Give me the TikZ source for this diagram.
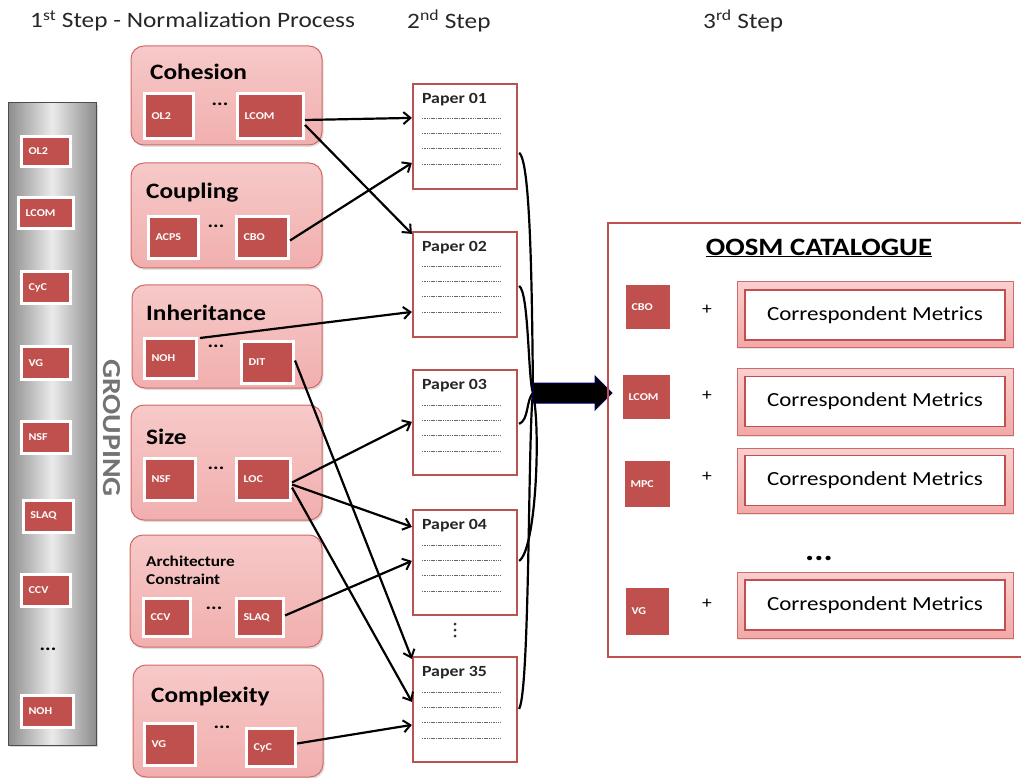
\documentclass[tikz,border=0pt]{standalone}
\usepackage{fontspec}
\setmainfont[FakeStretch=1.15]{Carlito}
\usetikzlibrary{arrows.meta,shadows,calc}
\definecolor{metred}{HTML}{C0504D}
\definecolor{grpborder}{HTML}{CF6A67}
\definecolor{grptop}{HTML}{F6C9C8}
\definecolor{grpbot}{HTML}{F1AFAE}
\definecolor{paperborder}{HTML}{B85450}
\definecolor{catred}{HTML}{C0504D}
\definecolor{cortop}{HTML}{F9CFCF}
\definecolor{corbot}{HTML}{F2A9A8}
\newcommand\fsz[1]{\fontsize{#1}{#1}\selectfont}
\tikzset{
  grp/.style={rounded corners=13pt, draw=grpborder, line width=1pt, top color=grptop, bottom color=grpbot,
    drop shadow={opacity=0.25, shadow xshift=1.5pt, shadow yshift=-2pt}},
  met/.style={fill=metred, draw=white, line width=3pt, text=white, font=\bfseries\fsz{10.5},
    inner xsep=7pt, inner ysep=0pt, align=left,
    drop shadow={opacity=0.3, shadow xshift=1.5pt, shadow yshift=-1.5pt}},
  gtitle/.style={anchor=west, inner sep=0pt, font=\bfseries\fsz{22}},
  dots/.style={inner sep=0pt, font=\bfseries\fsz{18}},
  paperbox/.style={draw=paperborder, line width=2.2pt, fill=white, minimum width=104pt, minimum height=105pt, inner sep=0pt},
  ptitle/.style={anchor=west, inner sep=0pt, font=\bfseries\fsz{15.5}, text=black!85},
  dl/.style={black!60, line width=0.8pt, dash pattern=on 1.5pt off 0.8pt},
  arr/.style={-{Straight Barb[length=7pt,width=12pt,line width=2pt]}, line width=2.2pt, black},
  brace/.style={line width=2.2pt, black},
  head/.style={anchor=west, inner sep=0pt, font=\fsz{22}, text=black!85},
  corout/.style={draw=grpborder, line width=1pt, top color=cortop, bottom color=corbot, minimum width=276pt,
    drop shadow={opacity=0.2, shadow xshift=1pt, shadow yshift=-1.5pt}},
  corin/.style={draw=catred, line width=1.2pt, fill=white, minimum width=260pt, minimum height=50pt, font=\fsz{20}},
  plus/.style={inner sep=0pt, font=\fsz{17}},
}
% name, x, y, width, height, label
\newcommand\metric[6]{\node[met, minimum width=#4pt, minimum height=#5pt, text width=#4pt-14pt] (#1) at (#2,#3) {#6};}
% name, cx, cy, label
\newcommand\paper[4]{%
  \node[paperbox] (#1) at (#2,#3) {};
  \node[ptitle] (#1t) at ($(#1.north west)+(10,17)$) {#4};
  \draw[dl] ($(#1.north west)+(10,36)$) -- ($(#1.north west)+(89,36)$);
  \draw[dl] ($(#1.north west)+(10,51)$) -- ($(#1.north west)+(89,51)$);
  \draw[dl] ($(#1.north west)+(10,66)$) -- ($(#1.north west)+(89,66)$);
  \draw[dl] ($(#1.north west)+(10,82)$) -- ($(#1.north west)+(89,82)$);
}
% name, cy, height
\newcommand\corr[3]{%
  \node[corout, minimum height=#3pt] (#1) at (875,#2) {};
  \node[corin] (#1i) at (#1.center) {Correspondent Metrics};
}
\begin{document}
\begin{tikzpicture}[x=1pt,y=-1pt]
\useasboundingbox (0,0) rectangle (1021,778);

% headings
\node[head] (h1) at (30,21) {1\textsuperscript{st} Step - Normalization Process};
\node[head] (h2) at (407,21) {2\textsuperscript{nd} Step};
\node[head] (h3) at (703,21) {3\textsuperscript{rd} Step};

% left grouping column
\node[draw=black!70, line width=1pt, left color=black!45, right color=black!45, middle color=black!8,
      minimum width=88pt, minimum height=642pt,
      drop shadow={opacity=0.3, shadow xshift=2pt, shadow yshift=-2pt}] (col) at (52,424) {};
\metric{cOL}{46}{151.5}{49}{30}{OL2}
\metric{cLCOM}{46}{213}{55}{31}{LCOM}
\metric{cCyC}{46}{288}{49}{32}{CyC}
\metric{cVG}{46}{363}{49}{32}{VG}
\metric{cNSF}{46}{437}{49}{32}{NSF}
\metric{cSLAQ}{48.5}{516}{50}{32}{SLAQ}
\metric{cCCV}{46}{590}{49}{32}{CCV}
\node[dots] (cdots) at (48,649) {...};
\metric{cNOH}{47.5}{711}{52}{32}{NOH}
\node[rotate=-90, inner sep=0pt, font=\bfseries\fsz{26}, text=black!55] (grouping) at (112,428) {GROUPING};

% group boxes
\node[grp, minimum width=191pt, minimum height=99pt] (coh) at (226.5,95.5) {};
\node[gtitle] (cohT) at (150,72) {Cohesion};
\metric{cohOL}{169}{116}{49}{45}{OL2}
\node[dots] (cohD) at (220,104) {...};
\metric{cohLCOM}{270.5}{116}{66}{45}{LCOM}

\node[grp, minimum width=191pt, minimum height=105pt] (cpl) at (226.5,215.5) {};
\node[gtitle] (cplT) at (146,193) {Coupling};
\metric{cplACPS}{173.5}{237.5}{50}{42}{ACPS}
\node[dots] (cplD) at (216,226) {...};
\metric{cplCBO}{262.5}{237.5}{52}{42}{CBO}

\node[grp, minimum width=190pt, minimum height=103pt] (inh) at (227,336.5) {};
\node[gtitle] (inhT) at (146,313) {Inheritance};
\metric{inhNOH}{170.5}{358.5}{52}{40}{NOH}
\node[dots] (inhD) at (216,346) {...};
\metric{inhDIT}{267.5}{362.5}{52}{42}{DIT}

\node[grp, minimum width=191pt, minimum height=115pt] (siz) at (226.5,462.5) {};
\node[gtitle] (sizT) at (146,437) {Size};
\metric{sizNSF}{170}{479.5}{51}{42}{NSF}
\node[dots] (sizD) at (216,468) {...};
\metric{sizLOC}{263.5}{479.5}{54}{42}{LOC}

\node[grp, minimum width=192pt, minimum height=112pt] (arc) at (226,591) {};
\node[anchor=west, inner sep=0pt, align=left, font=\bfseries\fsz{15}] (arcT) at (146,570) {Architecture\\[3pt]Constraint};
\metric{arcCCV}{167}{617.5}{47}{38}{CCV}
\node[dots] (arcD) at (214,608) {...};
\metric{arcSLAQ}{260}{617.5}{47}{38}{SLAQ}

\node[grp, minimum width=190pt, minimum height=112pt] (cpx) at (228,721) {};
\node[gtitle] (cpxT) at (151,697) {Complexity};
\metric{cpxVG}{170}{744.5}{51}{42}{VG}
\node[dots] (cpxD) at (222,727) {...};
\metric{cpxCyC}{271}{747.5}{49}{38}{CyC}

% papers
\paper{p01}{465}{136.5}{Paper 01}
\paper{p02}{465}{284.5}{Paper 02}
\paper{p03}{465}{422.5}{Paper 03}
\paper{p04}{465}{562.5}{Paper 04}
\paper{p35}{465}{709.5}{Paper 35}
% vertical ellipsis between Paper 04 and Paper 35
\fill[black!80] ($(p04.south)+(-10,8)$) circle (1.6pt);
\fill[black!80] ($(p04.south)+(-10,14)$) circle (1.6pt);
\fill[black!80] ($(p04.south)+(-10,20)$) circle (1.6pt);

% arrows from metrics to papers
\draw[arr] ($(cohLCOM.east)+(0,4)$) -- ($(p01.north west)+(0,35)$);
\draw[arr] ($(cohLCOM.east)+(0,9)$) -- ($(p02.north west)+(0,3)$);
\draw[arr] ($(cplCBO.east)+(0,3)$) -- ($(p01.north west)+(0,80)$);
\draw[arr] ($(inhNOH.north east)+(2,1)$) -- ($(p02.north west)+(0,81)$);
\draw[arr] ($(inhDIT.east)+(0,-2)$) -- ($(p35.north west)+(0,3)$);
\draw[arr] ($(sizLOC.east)+(0,3)$) -- ($(p03.north west)+(0,53)$);
\draw[arr] ($(sizLOC.east)+(0,5)$) -- ($(p04.north west)+(0,18)$);
\draw[arr] ($(sizLOC.east)+(0,8)$) -- ($(p35.north west)+(0,46)$);
\draw[arr] ($(arcSLAQ.east)+(0,-2)$) -- ($(p04.north west)+(0,52)$);
\draw[arr] ($(cpxCyC.east)+(0,-4)$) -- ($(p35.north west)+(0,69)$);

% brace-like joins to the big arrow
\coordinate (join) at (533,393);
\draw[brace] ($(p01.north east)+(1,70)$) .. controls (531,160) and (532,300) .. (join);
\draw[brace] ($(p02.north east)+(1,55)$) .. controls (529,292) and (528,380) .. (join);
\draw[brace] ($(p03.north east)+(1,55)$) .. controls (529,420) and (526,400) .. (join);
\draw[brace] ($(p04.north east)+(1,52)$) .. controls (536,550) and (541,430) .. (join);
\draw[brace] ($(p35.north east)+(1,53)$) .. controls (530,690) and (528,430) .. (join);

% big arrow
\draw[fill=black, draw=blue!40!black, line width=1pt]
  (join) ++(0,-10) -- (595,383) -- (595,376) -- (612,393) -- (595,410) -- (595,403) -- (533,403) -- cycle;

% catalogue
\node[draw=catred, line width=2pt, minimum width=422pt, minimum height=434pt, inner sep=0pt] (cat) at (819,440) {};
\node[inner sep=0pt, font=\bfseries\fsz{25}] (catT) at (819,248) {\underline{OOSM CATALOGUE}};

\metric{kCBO}{648}{307}{47}{47}{CBO}
\node[plus] (pl1) at (707,310) {+};
\corr{r1}{315}{66}

\metric{kLCOM}{646.5}{397}{50}{47}{LCOM}
\node[plus] (pl2) at (707,396) {+};
\corr{r2}{401.5}{67}

\metric{kMPC}{647.5}{484}{48}{49}{MPC}
\node[plus] (pl3) at (707,477) {+};
\corr{r3}{480.5}{65}

\node[inner sep=0pt, font=\bfseries\fsz{30}] (cdd) at (819,558) {...};

\metric{kVG}{647.5}{611.5}{46}{50}{VG}
\node[plus] (pl4) at (707,604) {+};
\corr{r4}{605}{66}

\end{tikzpicture}
\end{document}
